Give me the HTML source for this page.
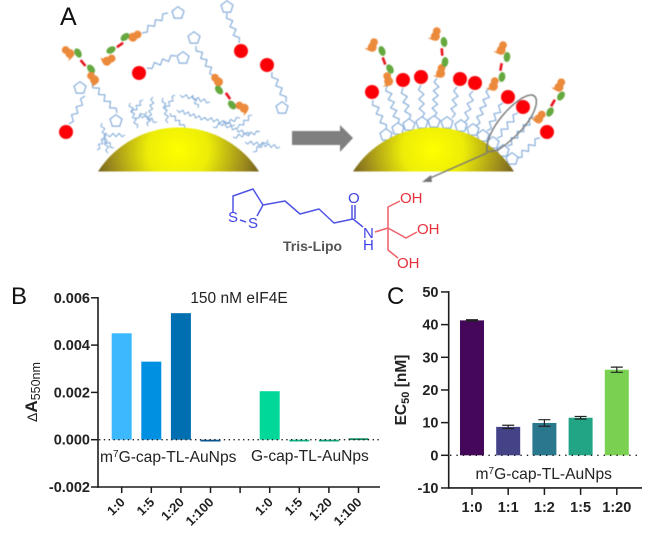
<!DOCTYPE html>
<html lang="en">
<head>
<meta charset="utf-8">
<title>Tris-Lipo AuNP figure</title>
<style>
html,body{margin:0;padding:0;background:#fff;}
#fig{display:block;width:649px;height:534px;font-family:"Liberation Sans",sans-serif;}
#art{filter:blur(0.4px);}
#structure{filter:blur(0.25px);}
#chartB,#chartC,#labels{filter:blur(0.25px);}
</style>
</head>
<body>
<svg id="fig" xmlns="http://www.w3.org/2000/svg" width="649" height="534" viewBox="0 0 649 534">
  <defs>
    <radialGradient id="goldL" gradientUnits="userSpaceOnUse" cx="178" cy="150" r="88">
      <stop offset="0" stop-color="#ffff00"/><stop offset="0.35" stop-color="#ecec08"/><stop offset="0.75" stop-color="#a08f1c"/><stop offset="1" stop-color="#6a5620"/>
    </radialGradient>
    <radialGradient id="goldR" gradientUnits="userSpaceOnUse" cx="433" cy="150" r="88">
      <stop offset="0" stop-color="#ffff00"/><stop offset="0.35" stop-color="#ecec08"/><stop offset="0.75" stop-color="#a08f1c"/><stop offset="1" stop-color="#6a5620"/>
    </radialGradient>
  </defs>
  <g id="art"></g>
  <g id="structure" fill="none" stroke-width="1.5" stroke-linejoin="round">
    <path stroke="#5054e4" d="M233,212 L233,196 L253,189 L263,205 L285,201 L300,214 L319,209 L334,223 L353,219 L363,227 M263,205 L257,216 M240,220 L246,222 M352,219 L352,205 M355,219 L355,205"/>
    <path stroke="#ee5f68" d="M375,232 L388,228 L388,207 L400,201 M388,228 L406,238 L417,232 M388,228 L388,250 L398,258"/>
    <g font-size="15" stroke="none">
      <text x="228" y="222" fill="#4044e4">S</text>
      <text x="248" y="228" fill="#4044e4">S</text>
      <text x="348" y="203" fill="#4044e4">O</text>
      <text x="363" y="238" fill="#4044e4">N</text>
      <text x="363" y="250" fill="#4044e4">H</text>
      <text x="400" y="203" fill="#e8303c">OH</text>
      <text x="417" y="234" fill="#e8303c">OH</text>
      <text x="397" y="268" fill="#e8303c">OH</text>
      <text x="283" y="251" font-size="14" font-weight="bold" fill="#555">Tris-Lipo</text>
    </g>
  </g>
  <g id="labels" fill="#111">
    <text x="60" y="25" font-size="25">A</text>
    <text x="11" y="304" font-size="24">B</text>
    <text x="387" y="304" font-size="24">C</text>
  </g>
  <g id="chartB"></g>
  <g id="chartC"></g>
</svg>

<script>
/* Chart B data */
var bCategories = ["1:0", "1:5", "1:20", "1:100", "", "1:0", "1:5", "1:20", "1:100"];
var bValues = [0.0045, 0.0033, 0.00535, -0.00006, null, 0.00205, -0.00005, -0.00006, 0.00006];
var bColors = ["#3cb8ff", "#0090e2", "#006fb2", "#0a5a98", null, "#00d89a", "#12b98a", "#17a880", "#0f8a62"];
var bTicks = [-0.002, 0, 0.002, 0.004, 0.006];
var bTickLabels = ["-0.002", "0.000", "0.002", "0.004", "0.006"];

/* Chart C data */
var cCategories = ["1:0", "1:1", "1:2", "1:5", "1:20"];
var cValues = [41.3, 8.7, 9.9, 11.5, 26.2];
var cErrors = [0.2, 0.5, 1.0, 0.4, 0.8];
var cColors = ["#45075a", "#454388", "#2a788e", "#21a585", "#7ad151"];
var cTicks = [-10, 0, 10, 20, 30, 40, 50];

var NS = "http://www.w3.org/2000/svg";
function mk(parent, tag, attrs, txt) {
  var e = document.createElementNS(NS, tag);
  for (var k in attrs) e.setAttribute(k, attrs[k]);
  if (txt !== undefined) e.textContent = txt;
  parent.appendChild(e);
  return e;
}
function named(e, name) {
  
  
  return e;
}

/* Chart B */
(function () {
  var g = document.getElementById("chartB");
  var axisColor = "#1c1c1c";
  function by(v) { return 439.7 - v * (47.3 / 0.002); }
  function bx(i) { return 121.7 + i * 29.6; }
  bValues.forEach(function (v, i) {
    if (v === null) return;
    var y0 = by(0), y1 = by(v);
    var h = Math.max(Math.abs(y1 - y0), 1.8);
    var bar = mk(g, "rect", { x: bx(i) - 10, y: v >= 0 ? y1 : y0, width: 20, height: h, fill: bColors[i] });
    named(bar, "bar-b-" + i);
  });
  var zero = mk(g, "line", { x1: 99, x2: 380, y1: by(0), y2: by(0), stroke: "#222", "stroke-width": 1.3, "stroke-dasharray": "1.4 3.4" });
  named(zero, "zero-line-b");
  var ya = mk(g, "line", { x1: 98, x2: 98, y1: by(0.006) - 0.8, y2: by(-0.002) + 0.8, stroke: axisColor, "stroke-width": 1.6 });
  named(ya, "y-axis-b");
  var xa = mk(g, "line", { x1: 97, x2: 380, y1: by(-0.002), y2: by(-0.002), stroke: axisColor, "stroke-width": 1.6 });
  named(xa, "x-axis-b");
  bTicks.forEach(function (t, i) {
    var tk = mk(g, "line", { x1: 91, x2: 98, y1: by(t), y2: by(t), stroke: axisColor, "stroke-width": 1.5 });
    named(tk, "y-tick-b");
    var lb = mk(g, "text", { x: 90, y: by(t) + 5, "text-anchor": "end", "font-size": 14.5, "font-weight": "bold", fill: "#222" }, bTickLabels[i]);
    named(lb, "y-tick-label-b");
  });
  bCategories.forEach(function (c, i) {
    var tk = mk(g, "line", { x1: bx(i), x2: bx(i), y1: by(-0.002), y2: by(-0.002) + 6, stroke: axisColor, "stroke-width": 1.5 });
    named(tk, "x-tick-b");
    if (!c) return;
    var ax = bx(i) + 4, ay = 503;
    var lb = mk(g, "text", { x: ax, y: ay, "text-anchor": "end", "font-size": 13, "font-weight": "bold", fill: "#222", transform: "rotate(-45 " + ax + " " + ay + ")" }, c);
    named(lb, "x-tick-label-b");
  });
  var title = mk(g, "text", { x: 239, y: 303, "text-anchor": "middle", "font-size": 15.5, fill: "#222" }, "150 nM eIF4E");
  named(title, "chart-title-b");

  var yt = mk(g, "text", { transform: "translate(37 392) rotate(-90)", "text-anchor": "middle", "font-size": 17, fill: "#222" });
  named(yt, "y-axis-title-b");
  mk(yt, "tspan", { "font-size": 14 }, "\u0394");
  mk(yt, "tspan", { "font-weight": "bold" }, "A");
  mk(yt, "tspan", { "font-size": 12.5, dy: 3 }, "550nm");

  var l1 = mk(g, "text", { x: 100, y: 462, "font-size": 15.6, fill: "#222" });
  named(l1, "group-label-m7g");
  mk(l1, "tspan", {}, "m");
  mk(l1, "tspan", { "font-size": 10, dy: -5 }, "7");
  mk(l1, "tspan", { dy: 5 }, "G-cap-TL-AuNps");
  var l2 = mk(g, "text", { x: 251, y: 461, "font-size": 15.6, fill: "#222" }, "G-cap-TL-AuNps");
  named(l2, "group-label-g");
})();

/* Chart C */
(function () {
  var g = document.getElementById("chartC");
  var axisColor = "#1c1c1c";
  function cy(v) { return 455.3 - v * 3.267; }
  function cx(i) { return 472 + i * 36.2; }
  cValues.forEach(function (v, i) {
    var bar = mk(g, "rect", { x: cx(i) - 12, y: cy(v), width: 24, height: cy(0) - cy(v), fill: cColors[i] });
    named(bar, "bar-c-" + i);
    var e = cErrors[i];
    var eb = mk(g, "path", {
      d: "M" + (cx(i) - 6) + "," + cy(v + e) + "H" + (cx(i) + 6) +
         "M" + (cx(i) - 6) + "," + cy(v - e) + "H" + (cx(i) + 6) +
         "M" + cx(i) + "," + cy(v + e) + "V" + cy(v - e),
      stroke: "#222", "stroke-width": 1.2, fill: "none"
    });
    named(eb, "error-bar-c-" + i);
  });
  var zero = mk(g, "line", { x1: 450, x2: 642, y1: cy(0), y2: cy(0), stroke: "#222", "stroke-width": 1.3, "stroke-dasharray": "1.4 5" });
  named(zero, "zero-line-c");
  var ya = mk(g, "line", { x1: 448.7, x2: 448.7, y1: cy(50) - 0.8, y2: cy(-10) + 0.8, stroke: axisColor, "stroke-width": 1.6 });
  named(ya, "y-axis-c");
  var xa = mk(g, "line", { x1: 448, x2: 642, y1: cy(-10), y2: cy(-10), stroke: axisColor, "stroke-width": 1.6 });
  named(xa, "x-axis-c");
  cTicks.forEach(function (t) {
    var tk = mk(g, "line", { x1: 441, x2: 448.7, y1: cy(t), y2: cy(t), stroke: axisColor, "stroke-width": 1.5 });
    named(tk, "y-tick-c");
    var lb = mk(g, "text", { x: 438.5, y: cy(t) + 5, "text-anchor": "end", "font-size": 14.5, "font-weight": "bold", fill: "#222" }, String(t));
    named(lb, "y-tick-label-c");
  });
  cCategories.forEach(function (c, i) {
    var tk = mk(g, "line", { x1: cx(i), x2: cx(i), y1: cy(-10), y2: cy(-10) + 7, stroke: axisColor, "stroke-width": 1.5 });
    named(tk, "x-tick-c");
    var lb = mk(g, "text", { x: cx(i), y: 512, "text-anchor": "middle", "font-size": 14.5, "font-weight": "bold", fill: "#222" }, c);
    named(lb, "x-tick-label-c");
  });
  var yt = mk(g, "text", { transform: "translate(406 390) rotate(-90)", "text-anchor": "middle", "font-size": 15.5, "font-weight": "bold", fill: "#222" });
  named(yt, "y-axis-title-c");
  mk(yt, "tspan", {}, "EC");
  mk(yt, "tspan", { "font-size": 11, dy: 3 }, "50");
  mk(yt, "tspan", { dy: -3 }, " [nM]");
  var l = mk(g, "text", { x: 475.5, y: 479, "font-size": 15.6, fill: "#222" });
  named(l, "group-label-m7g-c");
  mk(l, "tspan", {}, "m");
  mk(l, "tspan", { "font-size": 10, dy: -5 }, "7");
  mk(l, "tspan", { dy: 5 }, "G-cap-TL-AuNps");
})();

/* Panel A illustration */
(function () {
  var g = document.getElementById("art");
  var BLUE = "#86add9";
  function zig(a, b, c, d, color, amp, step, width) {
    var dx = c - a, dy = d - b, L = Math.sqrt(dx * dx + dy * dy);
    var n = Math.max(2, Math.round(L / (step || 4.5)));
    var nx = -dy / L, ny = dx / L, p = "M" + a + "," + b;
    for (var i = 1; i < n; i++) {
      var s = (i % 2 ? 1 : -1) * (amp || 2.4);
      p += "L" + (a + dx * i / n + nx * s).toFixed(1) + "," + (b + dy * i / n + ny * s).toFixed(1);
    }
    p += "L" + c + "," + d;
    var e = mk(g, "path", { d: p, fill: "none", stroke: color || BLUE, "stroke-width": width || 1.2, "stroke-linejoin": "round" });
    named(e, "lipid-chain");
  }
  function pent(x, y, r) {
    r = r || 6.3;
    var p = "";
    for (var i = 0; i < 5; i++) {
      var an = -Math.PI / 2 + i * 2 * Math.PI / 5;
      p += (i ? "L" : "M") + (x + r * Math.cos(an)).toFixed(1) + "," + (y + r * Math.sin(an)).toFixed(1);
    }
    var e = mk(g, "path", { d: p + "Z", fill: "#fff", stroke: BLUE, "stroke-width": 1.2 });
    named(e, "tris-headgroup");
  }
  function red(x, y) {
    var e = mk(g, "circle", { cx: x, cy: y, r: 7, fill: "#fb0007" });
    named(e, "red-dye-dot");
  }
  function orange(x, y, ang) {
    var t = mk(g, "g", { transform: "translate(" + x + " " + y + ") rotate(" + (ang || 0) + ")", fill: "#ec8a3c" });
    named(t, "cap-group");
    mk(t, "circle", { cx: 0, cy: -3, r: 3.9 });
    mk(t, "circle", { cx: 0, cy: 2.4, r: 4.5 });
    mk(t, "path", { d: "M-2,4 L-7,6 L-1,7 Z" });
  }
  function green(x, y, ang) {
    var e = mk(g, "ellipse", { cx: 0, cy: 0, rx: 3.3, ry: 5, fill: "#64a83e", transform: "translate(" + x + " " + y + ") rotate(" + ang + ")" });
    named(e, "green-peptide");
  }
  function link(x, y, ang) {
    var e = mk(g, "rect", { x: -1.3, y: -3.8, width: 2.6, height: 7.6, fill: "#e8121c", transform: "translate(" + x + " " + y + ") rotate(" + ang + ")" });
    named(e, "red-linker");
  }
  function dome(d, fill, name) {
    var e = mk(g, "path", { d: d, fill: fill });
    named(e, name);
  }

  /* left dome + lipid cloud */
  var cloud = [
    [102,123,108,153],[97,150,107,133],[107,135,125,135],[104,140,114,148],
    [130,103,137,128],[143,100,132,113],[153,97,148,126],[140,115,157,122],[135,118,147,112],
    [163,98,168,123],[175,95,165,110],[180,95,210,102],[177,110,207,120],[193,95,198,108],[170,113,185,128],
    [213,127,240,118],[233,137,260,132],[252,115,238,128],[245,142,280,147],[253,152,268,140],
    [205,118,235,125],[225,125,250,135]
  ];
  cloud.forEach(function (c) { zig(c[0], c[1], c[2], c[3], "#8ab0da", 1.7, 3, 1.1); });
  dome("M98,171.5 A95.6,95.6 0 0 1 259,171.5 Z", "url(#goldL)", "gold-nanoparticle-left");

  /* free chains left */
  [[142,33,168,13],[227,13,239,43],[272,72,286,102],[147,68,176,56],[196,46,214,76],[69,124,85,96],[92,83,117,113]].forEach(function (c) {
    zig(c[0], c[1], c[2], c[3]);
  });
  [[178,13],[227,7],[282,108],[183,58],[194,38],[80,88],[116,121]].forEach(function (p) { pent(p[0], p[1]); });
  [[241,51],[267,65],[139,73],[66,132]].forEach(function (p) { red(p[0], p[1]); });

  /* peptide assemblies left */
  orange(68,52,-50); green(78,53,-30); link(83,63,-40); green(91,69,-40); orange(93,78,-40);
  orange(135,36,60); green(125,37,50); link(120,45,55); green(111,50,60); orange(109,60,60);
  orange(217,80,-40); green(219,90,-40); link(228,96,-35); green(232,105,-40); orange(242,107,-60);

  /* right dome with brush */
  var brush = [
    [386,130,373,100],[398,124,387,86],[409,120,403,88],[422,118,421,85],[434,117,437,78],
    [452,118,457,87],[465,122,473,91],[476,126,490,88],[487,131,503,103],[497,138,518,113],
    [507,146,534,117],[517,158,540,138]
  ];
  brush.forEach(function (c) { zig(c[0], c[1], c[2], c[3], BLUE, 2.6, 4.6, 1.2); });
  [[386,135],[398,129],[409,125],[422,123],[434,122],[447,123],[461,126],[473,130],[483,136],[493,143],[503,151],[512,159]].forEach(function (p) { pent(p[0], p[1]); });
  dome("M353,171.5 A95.6,95.6 0 0 1 514,171.5 Z", "url(#goldR)", "gold-nanoparticle-right");
  [[372,92],[403,80],[421,77],[460,79],[475,83],[508,97],[523,107],[547,132]].forEach(function (p) { red(p[0], p[1]); });

  /* peptide assemblies right */
  orange(388,79,-15); green(390,69,-30); link(384,61,-20); green(382,51,-20); orange(373,45,20);
  orange(441,71,10); green(445,62,5); link(442,52,-5); green(444,42,-10); orange(436,34,15);
  orange(494,84,15); green(502,77,10); link(501,67,10); green(507,57,5); orange(502,48,20);
  orange(540,117,35); green(550,112,30); link(553,103,30); green(561,96,35); orange(560,85,25);

  /* big grey arrow */
  var arrow = mk(g, "path", { d: "M292,131 H340 V125 L353,138 L340,152 V145 H292 Z", fill: "#7f7f7f" });
  named(arrow, "reaction-arrow");

  /* callout loop & pointer */
  var loop = mk(g, "path", { d: "M487,152 C484,130 518,94 532,95 C543,97 534,126 498,150 Z", fill: "none", stroke: "#777", "stroke-width": 1.4 });
  named(loop, "callout-loop");
  var line = mk(g, "line", { x1: 487, y1: 153, x2: 428, y2: 179, stroke: "#777", "stroke-width": 1.4 });
  named(line, "callout-line");
  var head = mk(g, "path", { d: "M422,182 L431,175 L432,182 Z", fill: "#777" });
  named(head, "callout-arrowhead");
})();
</script>
</body>
</html>
